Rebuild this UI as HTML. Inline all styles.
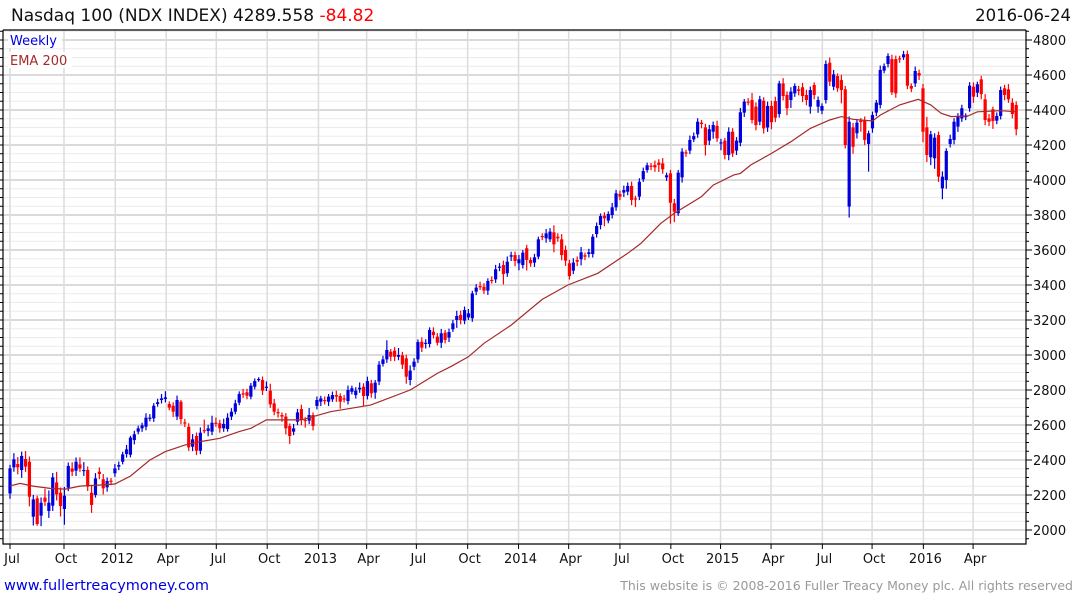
<!DOCTYPE html>
<html><head><meta charset="utf-8"><style>
html,body{margin:0;padding:0;background:#fff;}
body{width:1075px;height:600px;overflow:hidden;position:relative;font-family:"DejaVu Sans","Liberation Sans",sans-serif;}
svg text{font-family:"DejaVu Sans","Liberation Sans",sans-serif;}
</style></head><body>
<svg id="chart" width="1075" height="600" viewBox="0 0 1075 600" xmlns="http://www.w3.org/2000/svg">
<g id="grid"></g>
<g id="series"></g>
<g id="emaG"></g>
<g id="axes"></g>
<text x="11" y="21" font-size="17" fill="#111">Nasdaq 100 (NDX INDEX) 4289.558 <tspan fill="#ff0000">-84.82</tspan></text>
<text x="1071" y="21" font-size="16.5" fill="#111" text-anchor="end">2016-06-24</text>
<rect x="8" y="32" width="54" height="16" fill="#fff"/>
<text x="10" y="45" font-size="13" fill="#0000dd">Weekly</text>
<rect x="8" y="52" width="64" height="16" fill="#fff"/>
<text x="10" y="65" font-size="13" fill="#a52a2a">EMA 200</text>
<a><text x="4" y="590" font-size="14.5" fill="#0000dd">www.fullertreacymoney.com</text></a>
<text x="1073" y="590" font-size="12.5" fill="#999" text-anchor="end">This website is © 2008-2016 Fuller Treacy Money plc. All rights reserved</text>
</svg>
<script>
const opens=[2209,2358,2377,2343,2406,2390,2076,2181,2082,2185,2109,2139,2272,2213,2120,2242,2352,2339,2375,2339,2343,2213,2200,2333,2290,2244,2282,2324,2362,2390,2434,2430,2514,2562,2581,2590,2636,2638,2720,2743,2749,2720,2710,2648,2733,2615,2590,2476,2537,2453,2571,2566,2562,2613,2610,2581,2577,2648,2676,2728,2781,2787,2762,2819,2857,
2857,2819,2796,2724,2674,2657,2648,2594,2562,2619,2691,2629,2625,2657,2709,2733,2743,2733,2747,2771,2766,2752,2737,2790,2771,2804,2819,2766,2838,2785,2848,2949,2975,3019,3025,2990,2998,2981,2857,2933,2975,3076,3067,3063,3133,3105,3070,3128,3099,3147,3200,3229,3196,3215,3210,3362,3394,3390,3368,3429,3432,3499,3514,3467,
3562,3571,3524,3514,3610,3543,3528,3562,3680,3667,3661,3701,3676,3661,3600,3524,3482,3543,3547,3570,3577,3577,3691,3743,3796,3768,3800,3844,3920,3928,3933,3966,3895,3905,4004,4057,4082,4086,4099,4095,4015,4038,3867,3810,4015,4158,4168,4232,4261,4328,4301,4225,4276,4309,4210,4225,4143,4276,4168,4213,4385,4448,4457,4419,4333,
4453,4300,4423,4451,4377,4552,4486,4457,4495,4518,4530,4486,4419,4543,4419,4396,4457,4670,4533,4594,4571,4518,3848,4301,4267,4339,4343,4206,4295,4385,4429,4625,4663,4691,4691,4695,4701,4720,4537,4552,4611,4524,4301,4130,4124,4257,3952,4000,4206,4229,4305,4352,4362,4410,4533,4499,4575,4461,4352,4404,4339,4366,4524,4518,4442,4429];
const closes=[2352,2404,2358,2423,2362,2190,2175,2034,2156,2162,2156,2301,2204,2137,2196,2366,2333,2390,2352,2343,2248,2143,2295,2320,2238,2280,2276,2352,2371,2432,2461,2528,2547,2581,2598,2642,2642,2710,2730,2752,2758,2699,2676,2743,2634,2613,2472,2518,2453,2556,2568,2581,2613,2610,2581,2606,2642,2676,2724,2777,2775,2767,2825,2851,2863,
2796,2819,2718,2676,2667,2648,2581,2537,2581,2672,2629,2625,2657,2594,2743,2752,2737,2762,2771,2762,2733,2749,2800,2810,2796,2813,2766,2851,2781,2842,2945,2975,3029,2990,2990,3000,2945,2876,2911,2962,3074,3042,3070,3143,3114,3070,3124,3086,3131,3181,3223,3200,3257,3238,3352,3385,3387,3368,3423,3423,3490,3505,3463,3533,
3570,3537,3547,3585,3543,3524,3558,3661,3676,3695,3705,3632,3667,3571,3539,3451,3528,3533,3587,3562,3587,3676,3737,3794,3781,3806,3844,3924,3905,3943,3966,3886,3890,3990,4051,4084,4076,4072,4086,4061,4027,3870,3819,4042,4162,4152,4229,4251,4333,4320,4200,4290,4314,4238,4215,4143,4276,4152,4225,4387,4448,4442,4343,4314,4461,
4295,4423,4330,4356,4552,4480,4410,4505,4537,4509,4480,4457,4514,4486,4457,4423,4663,4562,4604,4524,4514,4200,4333,4190,4328,4331,4229,4267,4371,4442,4629,4651,4709,4501,4495,4690,4718,4539,4522,4623,4596,4276,4143,4261,4242,4019,4019,4166,4234,4333,4362,4410,4366,4539,4476,4547,4491,4343,4333,4337,4366,4514,4486,4461,4377,4290];
const upperWicks=[20,35,40,25,45,30,25,15,30,50,70,25,60,30,50,20,35,25,40,45,20,40,30,25,30,20,15,25,20,15,25,10,20,15,15,25,20,15,20,25,35,15,20,25,10,20,20,30,20,30,60,20,40,30,20,30,25,20,20,15,25,20,15,15,10,
20,30,40,25,20,15,20,15,25,20,25,15,40,15,20,15,20,15,20,25,15,20,25,15,20,30,20,25,20,15,20,20,55,15,20,40,20,20,30,20,15,25,20,15,25,20,25,15,20,20,30,25,20,25,15,20,25,20,15,20,25,20,25,30,
20,20,25,15,20,15,20,15,15,25,20,40,20,30,25,20,25,20,30,15,20,15,20,15,20,15,25,20,20,25,20,25,15,20,20,15,15,25,20,30,15,20,25,15,20,15,25,20,20,15,20,25,20,30,20,15,25,20,20,25,15,20,40,25,20,
20,25,30,25,15,30,20,25,15,20,25,30,20,15,20,15,20,30,25,15,30,20,30,25,20,15,20,15,20,15,25,15,15,25,20,15,20,20,15,25,20,25,60,20,25,20,30,15,25,20,20,20,15,20,25,15,20,30,25,15,20,20,20,30,25,20];
const lowerWicks=[30,25,40,45,30,55,50,10,60,25,40,30,35,60,90,20,25,30,20,30,25,45,15,30,35,25,20,20,20,15,20,15,25,15,20,20,15,20,15,20,20,15,30,20,30,25,20,25,25,20,15,30,20,20,25,20,15,20,15,15,20,20,15,15,10,
25,25,20,20,25,30,35,45,20,20,30,40,20,25,20,25,20,25,15,30,40,20,20,15,20,20,60,20,25,35,20,15,20,25,25,20,25,40,30,20,20,25,30,20,20,15,30,20,25,15,45,25,20,15,20,20,15,20,25,15,20,20,60,20,
25,30,40,20,60,20,25,15,20,25,15,45,20,30,30,20,20,25,35,20,20,20,20,25,45,15,20,20,20,25,20,30,45,20,15,15,20,25,40,25,20,120,60,15,30,20,20,15,20,25,60,25,40,20,40,25,30,20,25,20,25,15,20,30,20,
30,25,40,25,20,25,40,45,20,25,35,30,40,25,35,20,20,25,20,20,76,20,63,40,30,55,30,158,25,20,20,15,20,15,25,20,15,20,20,20,25,60,40,45,60,30,62,50,20,25,30,20,20,20,35,25,30,30,25,45,20,20,30,20,25,35];
const emaWeeks=[0,2.6,5.9,10.3,14.2,18,23.2,27,31,36,40,45,49,54,59,62,66,75,82.5,92.8,103,110,113.4,118,122,129,137,143.6,151.3,159,162.4,167.5,171,178,181,186.3,188,190.7,196,201,206,211,214,217,222,224,229,233.8,237,239.7,242.3,246.6,249,255,259];
const emaValues=[2252,2266,2251,2238,2234,2251,2257,2263,2308,2400,2448,2485,2505,2524,2562,2581,2629,2629,2676,2714,2800,2895,2933,2990,3067,3171,3318,3400,3467,3581,3638,3752,3810,3905,3971,4029,4038,4086,4152,4219,4295,4343,4362,4347,4337,4371,4429,4461,4429,4381,4362,4366,4390,4396,4390];
const tickWeeks=[0,13.9,27.1,40.2,53.1,66.2,79.4,91.8,104.6,117.8,130.9,143.8,157,170.1,182.9,195.9,209.1,221.9,235.1,247.9];
const tickLabels=["Jul","Oct","2012","Apr","Jul","Oct","2013","Apr","Jul","Oct","2014","Apr","Jul","Oct","2015","Apr","Jul","Oct","2016","Apr"];
const yTickValues=[2000,2200,2400,2600,2800,3000,3200,3400,3600,3800,4000,4200,4400,4600,4800];

const NS="http://www.w3.org/2000/svg";
const L=3,R=1026,T=30,B=544;
function xs(w){return 10+w*3.885;}
function ys(v){return 530-(v-2000)*35/200;}
function mk(tag,attrs,parent){const e=document.createElementNS(NS,tag);for(const k in attrs)e.setAttribute(k,attrs[k]);parent.appendChild(e);return e;}
const grid=document.getElementById('grid'),ser=document.getElementById('series'),ax=document.getElementById('axes'),emaG=document.getElementById('emaG');
for(let v=1950;v<=4850;v+=50){const y=ys(v);if(y<T||y>B)continue;const major=(v%200===0);
 const ln=mk('line',{x1:L,x2:R,y1:y,y2:y,stroke:major?'#c4c4c4':'#ebebeb','stroke-width':major?1.2:1},grid);
 
 
 const tk=mk('line',{x1:R,x2:R+(major?6:3),y1:y,y2:y,stroke:'#000','stroke-width':1},ax);
 
 
 const tl=mk('line',{x1:0,x2:L,y1:y,y2:y,stroke:'#000','stroke-width':1},ax);
 
 
}
yTickValues.forEach(v=>{const t=mk('text',{x:1033,y:ys(v)+5,'font-size':13,fill:'#111'},ax);t.textContent=v;
 
 });
tickWeeks.forEach((w,i)=>{const x=xs(w);
 const g=mk('line',{x1:x,x2:x,y1:T,y2:B,stroke:'#dcdcdc','stroke-width':1.5},grid);
 
 
 const tk=mk('line',{x1:x,x2:x,y1:B,y2:B+5,stroke:'#000','stroke-width':1},ax);
 
 
 const t=mk('text',{x:x+2,y:563,'font-size':13,fill:'#111','text-anchor':'middle'},ax);t.textContent=tickLabels[i];
 
 });
const fr=mk('path',{d:`M${L} ${T}H${R}M${L} ${T}V${B}H${R}V${T}`,stroke:'#000',fill:'none','stroke-width':1.2},ax);


closes.forEach((c,i)=>{const o=opens[i];const up=c>=o;const col=up?'#0000dd':'#ff0000';
 const hi=Math.max(o,c)+upperWicks[i],lo=Math.min(o,c)-lowerWicks[i];const x=xs(i);
 const g=mk('g',{},ser);
 
 
 mk('line',{x1:x,x2:x,y1:ys(hi),y2:ys(lo),stroke:col,'stroke-width':1.2},g);
 const top=ys(Math.max(o,c)),bot=ys(Math.min(o,c));
 mk('rect',{x:x-1.6,y:top,width:3.2,height:Math.max(1.2,bot-top),fill:col},g);
});
let d='';emaWeeks.forEach((w,i)=>{d+=(i?'L':'M')+xs(w).toFixed(1)+' '+ys(emaValues[i]).toFixed(1);});
const p=mk('path',{d:d,stroke:'#a52a2a',fill:'none','stroke-width':1.2},emaG);


</script>
</body></html>
